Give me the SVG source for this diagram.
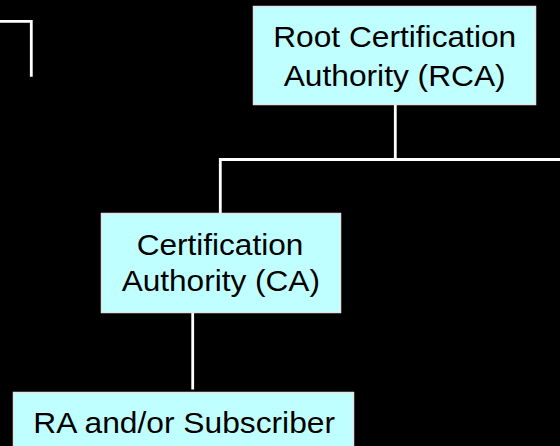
<svg xmlns="http://www.w3.org/2000/svg" width="560" height="446" viewBox="0 0 560 446">
  <style>
    .box { fill: #c0ffff; stroke: #e4e4e4; stroke-width: 1.5; }
    .lbl { font-family: "Liberation Sans", Arial, sans-serif; font-size: 30px; fill: #000000; text-anchor: middle; }
    .wire { fill: none; stroke: #ffffff; stroke-width: 2.8; }
  </style>
  <rect x="0" y="0" width="560" height="446" fill="#000000"/>

  <!-- hierarchy connectors -->
  <g id="connectors">
    <path class="wire" d="M0 21.3 H31.3 V76.7"/>
    <path class="wire" d="M395.3 104.5 V159.5"/>
    <path class="wire" d="M220.3 213.5 V159.5 H560"/>
    <path class="wire" d="M192.7 312.5 V389.5"/>
  </g>

  <g id="rca">
    <rect class="box" x="253.5" y="6.5" width="282" height="98"/>
    <text class="lbl" x="394.7" y="46.7" textLength="243" lengthAdjust="spacingAndGlyphs">Root Certification</text>
    <text class="lbl" x="394.7" y="86" textLength="222" lengthAdjust="spacingAndGlyphs">Authority (RCA)</text>
  </g>

  <g id="ca">
    <rect class="box" x="101.5" y="213.5" width="239" height="99"/>
    <text class="lbl" x="220" y="255" textLength="166.7" lengthAdjust="spacingAndGlyphs">Certification</text>
    <text class="lbl" x="220.8" y="291" textLength="198.3" lengthAdjust="spacingAndGlyphs">Authority (CA)</text>
  </g>

  <g id="ra">
    <rect class="box" x="13.5" y="392.5" width="340" height="80"/>
    <text class="lbl" x="184.2" y="433.3" textLength="301.7" lengthAdjust="spacingAndGlyphs">RA and/or Subscriber</text>
  </g>
</svg>
